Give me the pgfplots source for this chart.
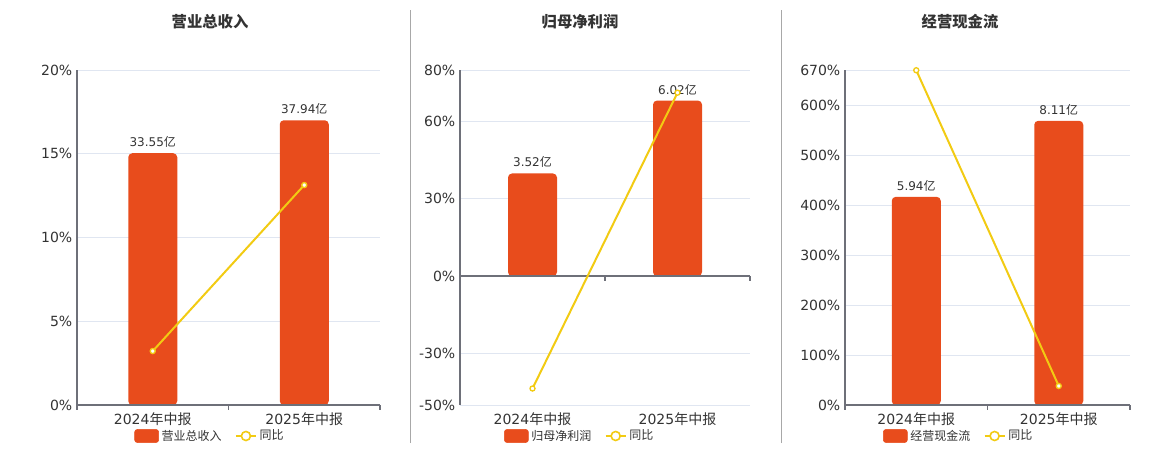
\documentclass[border=0pt]{standalone}
\usepackage{pgfplots}
\pgfplotsset{compat=1.18}
\usepackage{fontspec}
\setmainfont{DejaVu Sans}
\newfontfamily\cjk{Noto Sans CJK SC}
\definecolor{barc}{HTML}{E84C1C}
\definecolor{linec}{HTML}{F2CB13}
\definecolor{gridc}{HTML}{E0E6F1}
\definecolor{axisc}{HTML}{6E7079}
\definecolor{txtc}{HTML}{333333}
\definecolor{divc}{HTML}{A8A8A8}
\pgfplotsset{
  panel/.style={scale only axis, height=251.25pt, xmin=-0.5, xmax=1.5, clip=false},
  gridaxis/.style={panel, axis x line*=bottom, axis y line*=left,
    x axis line style={draw=none}, y axis line style={draw=axisc, line width=0.8pt},
    xtick={0,1}, xticklabels={{2024{\cjk 年中报}},{2025{\cjk 年中报}}},
    major tick length=0pt, xtick style={draw=none}, ytick style={draw=none},
    ymajorgrids, grid style={draw=gridc, line width=0.6pt},
    tick label style={font=\fontsize{10.5}{12}\selectfont, text=txtc},
    xticklabel style={yshift=-2pt}},
  baraxis/.style={panel, hide axis, ybar, bar width=36.75pt,
    /pgf/number format/assume math mode=true,
    nodes near coords={\pgfmathprintnumber[fixed,fixed zerofill,precision=2,assume math mode=true]{\pgfplotspointmeta}{\cjk 亿}},
    nodes near coords style={font=\fontsize{9}{10}\selectfont, text=txtc, anchor=south, inner sep=0pt, yshift=4pt}},
  lineaxis/.style={panel, hide axis, legend columns=2,
    legend style={draw=none, fill=none, anchor=center, font=\fontsize{9}{10}\selectfont, text=txtc,
      /tikz/every even column/.append style={column sep=8pt}}},
  barplot/.style={fill=barc, draw=none, rounded corners=3pt},
  yoyplot/.style={color=linec, line width=1.5pt, mark=*, mark size=1.9pt,
    mark options={fill=white, draw=linec, line width=1pt},
    legend image code/.code={\draw[linec, line width=1.5pt] (0pt,0pt) -- (15pt,0pt);
      \draw[linec, line width=1.2pt, fill=white] (7.5pt,0pt) circle (3.4pt);}},
  barlegend/.style={legend image code/.code={\fill[barc, rounded corners=2pt] (0pt,-4.9pt) rectangle (18pt,4.9pt);}}
}
\begin{document}
\begin{tikzpicture}
\path[use as bounding box] (0,0) rectangle (870pt,337.5pt);
\draw[divc, line width=0.75pt] (307.9pt,5.25pt) -- (307.9pt,330pt);
\draw[divc, line width=0.75pt] (585.75pt,5.25pt) -- (585.75pt,330pt);
\node[font=\cjk\bfseries\fontsize{11.5}{13}\selectfont, text=txtc] at (157.5pt,321pt) {营业总收入};
\node[font=\cjk\bfseries\fontsize{11.5}{13}\selectfont, text=txtc] at (435pt,321pt) {归母净利润};
\node[font=\cjk\bfseries\fontsize{11.5}{13}\selectfont, text=txtc] at (720pt,321pt) {经营现金流};

% ---------- Panel 1 ----------
\begin{axis}[gridaxis, at={(57.75pt,33.75pt)}, anchor=south west, width=227.25pt,
  ymin=0, ymax=20, ytick={0,5,10,15,20}, yticklabels={0\%,5\%,10\%,15\%,20\%}]
\end{axis}
\begin{axis}[baraxis, at={(57.75pt,33.75pt)}, anchor=south west, width=227.25pt, ymin=0, ymax=44.64]
\addplot[barplot] coordinates {(0,33.55) (1,37.94)};
\draw[axisc, line width=1.2pt] (axis cs:-0.5,0) -- (axis cs:1.5,0);
\draw[axisc, line width=0.8pt] (axis cs:-0.5,0) -- ++(0pt,-4pt);
\draw[axisc, line width=0.8pt] (axis cs:0.5,0) -- ++(0pt,-4pt);
\draw[axisc, line width=0.8pt] (axis cs:1.5,0) -- ++(0pt,-4pt);
\end{axis}
\begin{axis}[lineaxis, at={(57.75pt,33.75pt)}, anchor=south west, width=227.25pt,
  ymin=0, ymax=20, legend style={at={(0.44,-0.0925)}}]
\addlegendimage{barlegend}
\addlegendentry{\cjk 营业总收入}
\addplot[yoyplot] coordinates {(0,3.22) (1,13.13)};
\addlegendentry{\cjk 同比}
\end{axis}

% ---------- Panel 2 ----------
\begin{axis}[gridaxis, at={(345pt,33.75pt)}, anchor=south west, width=217.5pt,
  ymin=-50, ymax=80, ytick={-50,-30,0,30,60,80}, yticklabels={-50\%,-30\%,0\%,30\%,60\%,80\%}]
\end{axis}
\begin{axis}[baraxis, at={(345pt,33.75pt)}, anchor=south west, width=217.5pt, ymin=-4.42, ymax=7.07]
\addplot[barplot] coordinates {(0,3.52) (1,6.02)};
\draw[axisc, line width=1.2pt] (axis cs:-0.5,0) -- (axis cs:1.5,0);
\draw[axisc, line width=0.8pt] (axis cs:-0.5,0) -- ++(0pt,-4pt);
\draw[axisc, line width=0.8pt] (axis cs:0.5,0) -- ++(0pt,-4pt);
\draw[axisc, line width=0.8pt] (axis cs:1.5,0) -- ++(0pt,-4pt);
\end{axis}
\begin{axis}[lineaxis, at={(345pt,33.75pt)}, anchor=south west, width=217.5pt,
  ymin=-50, ymax=80, legend style={at={(0.414,-0.0925)}}]
\addlegendimage{barlegend}
\addlegendentry{\cjk 归母净利润}
\addplot[yoyplot] coordinates {(0,-43.6) (1,71.2)};
\addlegendentry{\cjk 同比}
\end{axis}

% ---------- Panel 3 ----------
\begin{axis}[gridaxis, at={(633.75pt,33.75pt)}, anchor=south west, width=213.75pt,
  ymin=0, ymax=670, ytick={0,100,200,300,400,500,600,670},
  yticklabels={0\%,100\%,200\%,300\%,400\%,500\%,600\%,670\%}]
\end{axis}
\begin{axis}[baraxis, at={(633.75pt,33.75pt)}, anchor=south west, width=213.75pt, ymin=0, ymax=9.56]
\addplot[barplot] coordinates {(0,5.94) (1,8.11)};
\draw[axisc, line width=1.2pt] (axis cs:-0.5,0) -- (axis cs:1.5,0);
\draw[axisc, line width=0.8pt] (axis cs:-0.5,0) -- ++(0pt,-4pt);
\draw[axisc, line width=0.8pt] (axis cs:0.5,0) -- ++(0pt,-4pt);
\draw[axisc, line width=0.8pt] (axis cs:1.5,0) -- ++(0pt,-4pt);
\end{axis}
\begin{axis}[lineaxis, at={(633.75pt,33.75pt)}, anchor=south west, width=213.75pt,
  ymin=0, ymax=670, legend style={at={(0.40,-0.0925)}}]
\addlegendimage{barlegend}
\addlegendentry{\cjk 经营现金流}
\addplot[yoyplot] coordinates {(0,669.5) (1,38)};
\addlegendentry{\cjk 同比}
\end{axis}
\end{tikzpicture}
\end{document}
